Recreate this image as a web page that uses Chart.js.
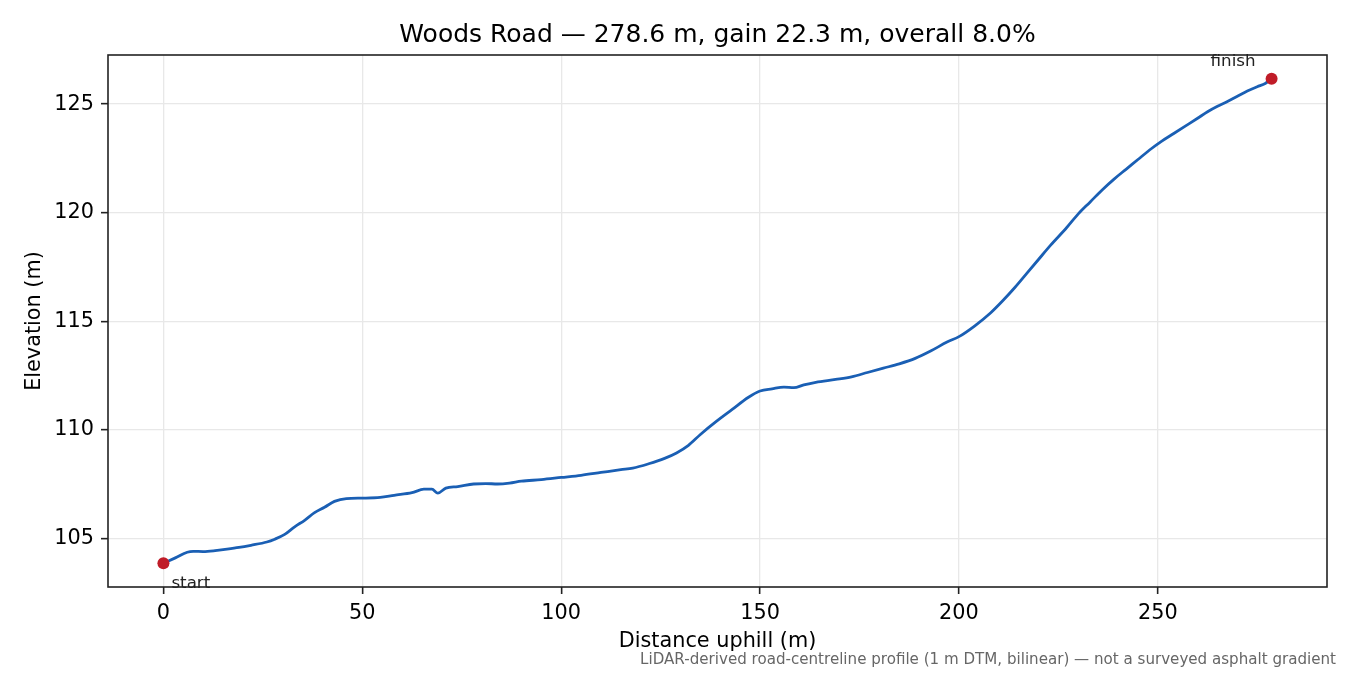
<!DOCTYPE html>
<html>
<head>
<meta charset="utf-8">
<script src="https://cdn.jsdelivr.net/npm/chart.js@4"></script>
<style>
  html, body { margin: 0; padding: 0; background: #fff; }
  #profile { display: block; }
</style>
</head>
<body>
<canvas id="profile" width="1350" height="675"></canvas>
<script>
// profile, metres along the road vs. elevation
const distance = [0, 3, 6, 7.5, 10, 13, 16, 19, 22, 26, 28, 30.5, 33, 35.5, 38, 40.5, 43, 46, 50, 54.5,
  58, 62.5, 65.5, 67.5, 69, 71, 74, 78, 81, 84, 87, 90, 95, 100, 105, 110, 115, 118, 122, 126,
  129, 132, 135, 139, 143, 147, 150, 153, 156, 158.5, 161, 164, 169, 173, 177, 181, 185, 189, 193, 197,
  200, 204, 208, 211, 214, 217, 220, 223, 227, 230, 233, 236, 239, 242, 245, 248, 251, 254, 257, 260,
  262.5, 265, 267.5, 270, 272.5, 275, 277, 278.6];
const elevation = [103.87, 104.12, 104.38, 104.42, 104.41, 104.45, 104.52, 104.6, 104.7, 104.85, 104.98, 105.2, 105.55, 105.85, 106.2, 106.45, 106.72, 106.85, 106.87, 106.9,
  107.0, 107.12, 107.28, 107.28, 107.1, 107.33, 107.4, 107.52, 107.54, 107.52, 107.56, 107.65, 107.72, 107.82, 107.92, 108.05, 108.18, 108.25, 108.45, 108.7,
  108.95, 109.3, 109.8, 110.4, 110.95, 111.5, 111.8, 111.9, 111.98, 111.95, 112.08, 112.2, 112.33, 112.45, 112.65, 112.85, 113.05, 113.3, 113.65, 114.05,
  114.3, 114.8, 115.4, 115.95, 116.55, 117.2, 117.85, 118.5, 119.3, 119.95, 120.5, 121.05, 121.55, 122.0, 122.45, 122.9, 123.3, 123.65, 124.0, 124.35,
  124.65, 124.9, 125.12, 125.36, 125.6, 125.8, 125.95, 126.17];

const xTicks = [0, 50, 100, 150, 200, 250];
const yTicks = [105, 110, 115, 120, 125];
const xRange = [-13.93, 292.53];
const yRange = [102.78, 127.26];

const titleText = "Woods Road \u2014 278.6 m, gain 22.3 m, overall 8.0%";
const xLabel = "Distance uphill (m)";
const yLabel = "Elevation (m)";
const footNote = "LiDAR-derived road-centreline profile (1 m DTM, bilinear) \u2014 not a surveyed asphalt gradient";

const FONT = "'DejaVu Sans', 'Liberation Sans', sans-serif";

const points = distance.map((d, i) => ({ x: d, y: elevation[i] }));
const ends = [points[0], points[points.length - 1]];

// titles, labels, annotations and the box round the axes
const decor = {
  id: "decor",
  afterDraw(chart) {
    const ctx = chart.ctx;
    const area = chart.chartArea;
    const sx = chart.scales.x, sy = chart.scales.y;
    ctx.save();
    ctx.fillStyle = "#000";
    ctx.textBaseline = "alphabetic";

    ctx.font = "25px " + FONT;
    ctx.textAlign = "center";
    ctx.fillText(titleText, (area.left + area.right) / 2, 42);

    ctx.font = "20.8px " + FONT;
    ctx.fillText(xLabel, (area.left + area.right) / 2, 647);

    ctx.save();
    ctx.translate(40, (area.top + area.bottom) / 2);
    ctx.rotate(-Math.PI / 2);
    ctx.fillText(yLabel, 0, 0);
    ctx.restore();

    ctx.font = "16.7px " + FONT;
    ctx.fillStyle = "#222";
    const p0 = ends[0], p1 = ends[1];
    ctx.textAlign = "left";
    ctx.fillText("start", sx.getPixelForValue(p0.x) + 8, sy.getPixelForValue(p0.y) + 25);
    ctx.textAlign = "right";
    ctx.fillText("finish", sx.getPixelForValue(p1.x) - 16, sy.getPixelForValue(p1.y) - 13);

    ctx.font = "15.1px " + FONT;
    ctx.fillStyle = "#666";
    ctx.fillText(footNote, 1336, 664);

    ctx.strokeStyle = "#222";
    ctx.lineWidth = 1.6;
    ctx.strokeRect(area.left, area.top, area.right - area.left, area.bottom - area.top);
    ctx.restore();
  }
};

new Chart(document.getElementById("profile"), {
  type: "line",
  data: {
    datasets: [{
      data: points,
      order: 2,
      borderColor: "#1a5fb4",
      borderWidth: 2.8,
      pointRadius: 0,
      cubicInterpolationMode: "monotone",
      fill: false
    }, {
      data: ends,
      order: 1,
      showLine: false,
      pointRadius: 6,
      pointHoverRadius: 6,
      pointBackgroundColor: "#c01c28",
      pointBorderWidth: 0,
      clip: false
    }]
  },
  options: {
    responsive: false,
    animation: false,
    devicePixelRatio: 1,
    layout: { padding: { left: 0, top: 55, right: 23, bottom: 0 } },
    plugins: { legend: { display: false }, tooltip: { enabled: false }, title: { display: false } },
    scales: {
      x: {
        type: "linear",
        min: xRange[0],
        max: xRange[1],
        afterBuildTicks: s => { s.ticks = xTicks.map(v => ({ value: v })); },
        afterFit: s => { s.height = 88; },
        border: { display: false },
        grid: { color: "#e8e8e8", lineWidth: 1.3, tickColor: "#222", tickLength: 7, tickWidth: 1.6 },
        ticks: { font: { family: FONT, size: 20.8 }, color: "#000", padding: 7, maxRotation: 0, autoSkip: false }
      },
      y: {
        type: "linear",
        min: yRange[0],
        max: yRange[1],
        afterBuildTicks: s => { s.ticks = yTicks.map(v => ({ value: v })); },
        afterFit: s => { s.width = 108; },
        border: { display: false },
        grid: { color: "#e8e8e8", lineWidth: 1.3, tickColor: "#222", tickLength: 7, tickWidth: 1.6 },
        ticks: { font: { family: FONT, size: 20.8 }, color: "#000", padding: 7, autoSkip: false }
      }
    }
  },
  plugins: [decor]
});
</script>
</body>
</html>
